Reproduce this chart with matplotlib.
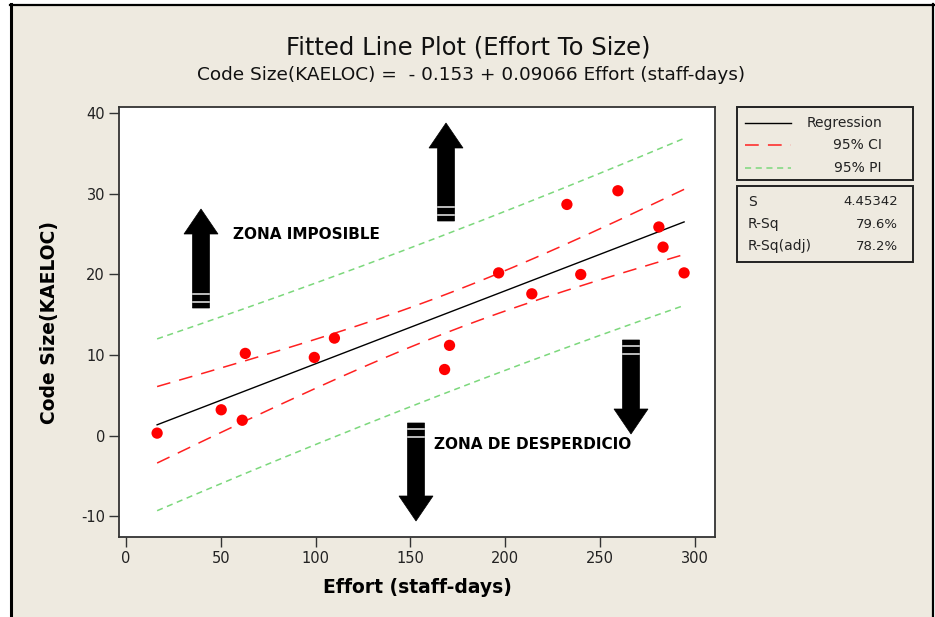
import numpy as np
import matplotlib
matplotlib.use("Agg")
import matplotlib.pyplot as plt
from matplotlib.patches import Polygon, Rectangle
from matplotlib.lines import Line2D
from matplotlib.transforms import Affine2D

plt.rcParams["axes.unicode_minus"] = False

# ---- data ----
effort = [16.4, 50.2, 61.3, 62.9, 99.3, 109.9, 168.0, 170.6, 196.5, 214.0,
          232.5, 239.8, 259.4, 281.0, 283.2, 294.3]
code_size = [0.3, 3.2, 1.9, 10.2, 9.7, 12.1, 8.2, 11.2, 20.2, 17.6,
             28.7, 20.0, 30.4, 25.9, 23.4, 20.2]
intercept = -0.153
slope = 0.09066
s_value = 4.45342
t_crit = 2.145  # t(0.975, 14)
x_ticks = [0, 50, 100, 150, 200, 250, 300]
y_ticks = [-10, 0, 10, 20, 30, 40]
stats_labels = ["S", "R-Sq", "R-Sq(adj)"]
stats_values = ["4.45342", "79.6%", "78.2%"]
legend_labels = ["Regression", "95% CI", "95% PI"]

W, H = 935, 617
BG = "#EEEAE0"
fig = plt.figure(figsize=(W / 100, H / 100), dpi=100, facecolor="white")
pix = Affine2D().scale(1 / W, -1 / H).translate(0, 1) + fig.transFigure

# page background and frame
fig.add_artist(Rectangle((11, 5), 921, 615, transform=pix, facecolor=BG,
                         edgecolor="none", zorder=0))
fig.add_artist(Line2D([10.5, 10.5], [4, 617], transform=pix, color="black", lw=2.2, zorder=0.5))
fig.add_artist(Line2D([9.5, 933.5], [4.5, 4.5], transform=pix, color="black", lw=1.6, zorder=0.5))
fig.add_artist(Line2D([932.8, 932.8], [4, 617], transform=pix, color="black", lw=1.6, zorder=0.5))

def fig_rect(x0, y0, x1, y1):
    return [x0 / W, 1 - y1 / H, (x1 - x0) / W, (y1 - y0) / H]

ax = fig.add_axes(fig_rect(119, 107, 715, 537))
ax.set_facecolor("white")

x = np.array(effort)
y = np.array(code_size)
xs = np.linspace(x.min(), x.max(), 200)
fit = intercept + slope * xs
xbar = x.mean()
sxx = ((x - xbar) ** 2).sum()
ci = t_crit * s_value * np.sqrt(1 / len(x) + (xs - xbar) ** 2 / sxx)
pi = t_crit * s_value * np.sqrt(1 + 1 / len(x) + (xs - xbar) ** 2 / sxx)

ax.plot(xs, fit, color="black", lw=1.0, zorder=3)
for sgn in (1, -1):
    ax.plot(xs, fit + sgn * ci, color="#FF2020", lw=1.1, dashes=(9, 6), zorder=3)
    ax.plot(xs, fit + sgn * pi, color="#7CD87C", lw=1.1, dashes=(4, 3), zorder=3)
ax.scatter(x, y, s=66, color="#FF0000", edgecolors="none", zorder=4)

ax.set_xlim(-3.7, 310.6)
ax.set_ylim(-12.6, 40.8)
ax.set_xticks(x_ticks)
ax.set_yticks(y_ticks)
ax.tick_params(direction="out", length=7, width=1, color="#333333",
               labelsize=10.5, labelcolor="#222222", pad=3)
for sp in ax.spines.values():
    sp.set_color("#333333")
    sp.set_linewidth(1.3)
ax.set_xlabel("Effort (staff-days)", fontsize=13.5, fontweight="bold", labelpad=9)
ax.set_ylabel("Code Size(KAELOC)", fontsize=13.5, fontweight="bold", labelpad=16)

ax.text(56.5, 25.0, "ZONA IMPOSIBLE", fontsize=11, fontweight="bold",
        va="center", ha="left", zorder=6)
ax.text(162.2, -1.1, "ZONA DE DESPERDICIO", fontsize=11, fontweight="bold",
        va="center", ha="left", zorder=6)

# titles
fig.text(468 / W, 1 - 47 / H, "Fitted Line Plot (Effort To Size)",
         fontsize=17.5, ha="center", va="center", color="#111111")
fig.text(471 / W, 1 - 75 / H,
         "Code Size(KAELOC) =  - 0.153 + 0.09066 Effort (staff-days)",
         fontsize=13.3, ha="center", va="center", color="#111111")

# block arrows (pixel coordinates)
def block_arrow(cx, tail, tip, shaft=17, head=34, hl=25):
    d = 1 if tip > tail else -1
    base = tip - d * hl
    pts = [(cx - shaft / 2, tail), (cx - shaft / 2, base), (cx - head / 2, base),
           (cx, tip), (cx + head / 2, base), (cx + shaft / 2, base),
           (cx + shaft / 2, tail)]
    fig.add_artist(Polygon(pts, closed=True, transform=pix, facecolor="black",
                           edgecolor="black", lw=0.5, zorder=7))
    for off in (6, 14):
        yy = tail + d * off
        fig.add_artist(Line2D([cx - shaft / 2 + 0.5, cx + shaft / 2 - 0.5], [yy, yy],
                              transform=pix, color="#DDDDDD", lw=1.2, zorder=8))

block_arrow(201, 308, 209)
block_arrow(446, 221, 123)
block_arrow(416, 423, 521)
block_arrow(631, 340, 434)

# legend box
fig.add_artist(Rectangle((737, 107), 176, 73, transform=pix, facecolor="none",
                         edgecolor="#222222", lw=1.4, zorder=5))
ly = [123, 145, 168]
styles = [dict(color="black", lw=1.0),
          dict(color="#FF2020", lw=1.1, dashes=(9, 6)),
          dict(color="#7CD87C", lw=1.1, dashes=(4, 3))]
for yy, lab, st in zip(ly, legend_labels, styles):
    fig.add_artist(Line2D([745, 791], [yy, yy], transform=pix, zorder=6, **st))
    fig.text(882 / W, 1 - yy / H, lab, fontsize=10, ha="right", va="center",
             color="#222222")

# stats box
fig.add_artist(Rectangle((737, 186), 176, 76, transform=pix, facecolor="none",
                         edgecolor="#222222", lw=1.4, zorder=5))
for yy, lab, val in zip([202, 224, 246], stats_labels, stats_values):
    fig.text(748 / W, 1 - yy / H, lab, fontsize=10, ha="left", va="center",
             color="#222222")
    fig.text(898 / W, 1 - yy / H, val, fontsize=9.5, ha="right", va="center",
             color="#222222")

fig.savefig("out.png", dpi=100, facecolor=fig.get_facecolor())
